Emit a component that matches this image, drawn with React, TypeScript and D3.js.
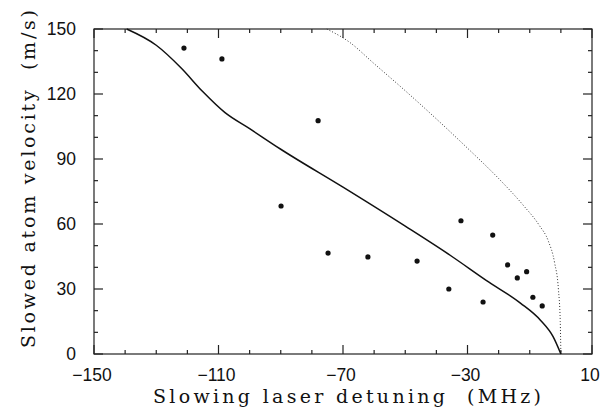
import React from "react";
import * as d3 from "d3";

const xTicks = [-150, -110, -70, -30, 10];
const yTicks = [0, 30, 60, 90, 120, 150];

const pointX = [-121.1, -108.9, -78, -89.9, -74.8, -62, -46.2, -36, -32.1, -25, -21.9, -17.1, -14, -11, -9, -6];
const pointY = [141.2, 136.2, 107.7, 68.3, 46.6, 44.8, 42.9, 30, 61.5, 24, 54.9, 41.1, 35.1, 38, 26.2, 22.2];

const solidX = [-139.5, -130, -122, -115, -108, -100, -90, -70, -50, -35, -24, -13, -6.5, -2.5, 0];
const solidY = [150, 142.5, 132, 121, 111.5, 104, 94.5, 77, 59, 45, 34, 23.5, 15.5, 8, 0];

const dottedX = [-75.2, -68, -60, -50, -40, -30, -20, -12, -7, -4, -2, -0.8, -0.2, 0];
const dottedY = [150, 144, 134, 121.5, 108.5, 95, 81, 68.5, 59.5, 52, 42, 30, 15, 0];

const W = 611, H = 409;
const L = 94, R = 592, T = 29, B = 354;

export default function App() {
  const x = d3.scaleLinear().domain([-150, 10]).range([L, R]);
  const y = d3.scaleLinear().domain([0, 150]).range([B, T]);
  const minorX = d3.range(-150, 11, 10);
  const minorY = d3.range(0, 151, 10);
  const line = d3.line<[number, number]>().x(d => x(d[0])).y(d => y(d[1])).curve(d3.curveMonotoneX);
  const solid = line(solidX.map((v, i) => [v, solidY[i]] as [number, number])) || "";
  const dotted = line(dottedX.map((v, i) => [v, dottedY[i]] as [number, number])) || "";
  const tickFont = "'Liberation Sans', Arial, sans-serif";
  const titleFont = "'DejaVu Serif', serif";
  return (
    <svg width={W} height={H} style={{ position: "absolute", left: 0, top: 0, background: "#fff" }}>
      <rect x={0} y={0} width={W} height={H} fill="#fff" />
      <rect x={L} y={T} width={R - L} height={B - T} fill="none" stroke="#222" strokeWidth={1.2} />
      {minorX.map(v => {
        const major = xTicks.includes(v);
        const len = major ? 9 : 4;
        return (
          <g key={"xt" + v} stroke="#222" strokeWidth={1.2}>
            <line x1={x(v)} x2={x(v)} y1={B} y2={B - len} />
            <line x1={x(v)} x2={x(v)} y1={T} y2={T + len} />
          </g>
        );
      })}
      {minorY.map(v => {
        const major = yTicks.includes(v);
        const len = major ? 9 : 4;
        return (
          <g key={"yt" + v} stroke="#222" strokeWidth={1.2}>
            <line x1={L} x2={L + len} y1={y(v)} y2={y(v)} />
            <line x1={R} x2={R - len} y1={y(v)} y2={y(v)} />
          </g>
        );
      })}
      {xTicks.map(v => (
        <text key={"xl" + v} x={x(v) - 2} y={381} textAnchor="middle" fontFamily={tickFont} fontSize={17.5} fill="#111">
          {v < 0 ? "\u2212" + Math.abs(v) : String(v)}
        </text>
      ))}
      {yTicks.map(v => (
        <text key={"yl" + v} x={76} y={y(v) + 6} textAnchor="end" fontFamily={tickFont} fontSize={17.5} fill="#111">
          {v}
        </text>
      ))}
      <path d={dotted} fill="none" stroke="#333" strokeWidth={1} strokeDasharray="1 2" />
      <path d={solid} fill="none" stroke="#111" strokeWidth={1.5} />
      {pointX.map((v, i) => (
        <circle key={"p" + i} cx={x(v)} cy={y(pointY[i])} r={2.6} fill="#111" />
      ))}
      <text x={153} y={403} fontFamily={titleFont} fontSize={19} fill="#111" textLength={388} lengthAdjust="spacing" style={{ whiteSpace: "pre" }}>
        {"Slowing laser detuning  (MHz)"}
      </text>
      <text transform={`translate(35,348) rotate(-90)`} x={0} y={0} fontFamily={titleFont} fontSize={19} fill="#111" textLength={338} lengthAdjust="spacing" style={{ whiteSpace: "pre" }}>
        {"Slowed atom velocity  (m/s)"}
      </text>
    </svg>
  );
}
